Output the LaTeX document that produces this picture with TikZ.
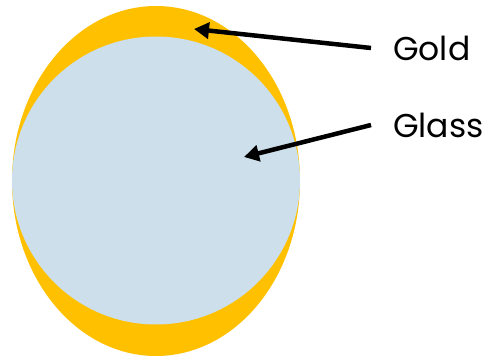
\documentclass[tikz,border=0pt]{standalone}
\usepackage{fontspec}
\setmainfont{Poppins}
\usetikzlibrary{arrows.meta,shapes.geometric}
\definecolor{ShellGold}{HTML}{FFC000}
\definecolor{CoreGlass}{HTML}{CCDFEA}

\begin{document}
\begin{tikzpicture}[x=1pt,y=-1pt,
  lbl/.style={anchor=west,inner sep=0pt,inner xsep=22pt,font=\fontsize{33}{38}\selectfont},
  ptr/.style={line width=4.5pt,-{Triangle[length=15pt,width=16pt]}}]
\useasboundingbox (0,0) rectangle (485,358);
\node[ellipse,fill=ShellGold,inner sep=0pt,minimum width=288pt,minimum height=350pt] (gold) at (156,181) {};
\node[circle,fill=CoreGlass,inner sep=0pt,minimum size=288pt] (glass) at (156,180.5) {};
\node[lbl] (goldlbl) at (371,48) {Gold};
\node[lbl] (glasslbl) at (371,125) {Glass};
\coordinate (goldtip) at (194,29);
\coordinate (glasstip) at (244,157);
\draw[ptr] (goldlbl.west) -- (goldtip);
\draw[ptr] (glasslbl.west) -- (glasstip);
\end{tikzpicture}
\end{document}
